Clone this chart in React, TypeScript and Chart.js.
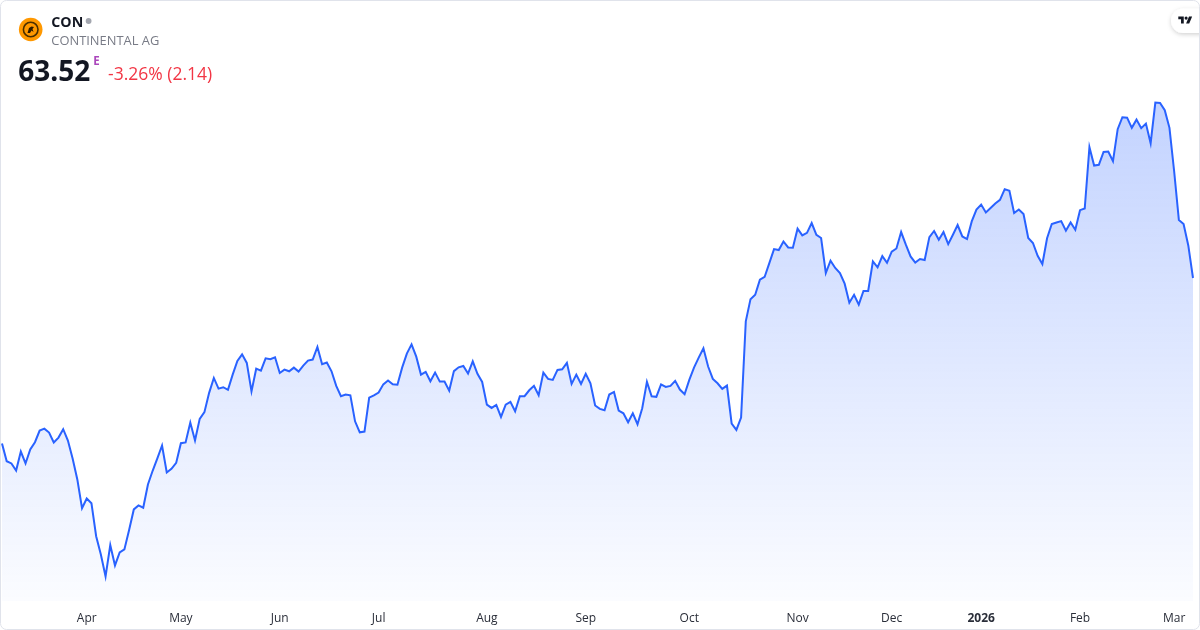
import React, { useEffect, useRef } from "react";
import { Chart, registerables } from "chart.js";

Chart.register(...registerables);

// Daily closes, CON (Continental AG), Mar 2025 – Mar 2026 (EUR)
const prices: number[] = [
  52.64, 51.48, 51.33, 50.87, 52.11, 51.33, 52.25, 52.73, 53.49, 53.62,
  53.36, 52.71, 53.03, 53.58, 52.84, 51.66, 50.28, 48.39, 49.03, 48.72,
  46.55, 45.35, 43.91, 45.96, 44.63, 45.48, 45.68, 46.95, 48.31, 48.57,
  48.42, 49.95, 50.85, 51.66, 52.51, 50.74, 50.98, 51.37, 52.66, 52.71,
  54.02, 52.84, 54.26, 54.70, 55.97, 56.95, 56.25, 56.34, 56.17, 57.17,
  58.07, 58.50, 57.94, 56.07, 57.56, 57.43, 58.24, 58.18, 58.31, 57.28,
  57.50, 57.39, 57.63, 57.37, 57.76, 58.09, 58.16, 58.99, 57.85, 57.96,
  57.39, 56.43, 55.75, 55.86, 55.81, 54.10, 53.38, 53.43, 55.66, 55.81,
  55.99, 56.53, 56.78, 56.53, 56.51, 57.63, 58.55, 59.16, 58.35, 57.17,
  57.35, 56.73, 57.30, 56.71, 56.71, 56.12, 57.40, 57.65, 57.74, 57.24,
  58.04, 57.22, 56.69, 55.20, 54.98, 55.18, 54.39, 55.20, 55.38, 54.76,
  55.75, 55.75, 56.14, 56.43, 55.81, 57.30, 56.89, 56.82, 57.48, 57.52,
  57.94, 56.56, 57.17, 56.56, 57.22, 56.60, 55.14, 54.92, 54.83, 55.86,
  56.03, 54.81, 54.63, 54.04, 54.63, 53.91, 54.96, 56.69, 55.75, 55.71,
  56.53, 56.36, 56.43, 56.76, 56.19, 55.88, 56.82, 57.63, 58.29, 58.90,
  57.70, 56.89, 56.60, 56.23, 56.45, 53.95, 53.54, 54.35, 60.67, 62.13,
  62.42, 63.41, 63.59, 64.50, 65.42, 65.36, 65.92, 65.53, 65.51, 66.76,
  66.32, 66.49, 67.13, 66.36, 66.15, 63.85, 64.66, 64.18, 63.85, 63.15,
  61.90, 62.42, 61.77, 62.67, 62.67, 64.61, 64.22, 64.96, 64.52, 65.25,
  65.46, 66.54, 65.71, 64.94, 64.54, 64.77, 64.70, 66.21, 66.61, 66.03,
  66.54, 65.75, 66.36, 67.00, 66.25, 66.08, 67.24, 68.02, 68.35, 67.83,
  68.12, 68.42, 68.66, 69.36, 69.25, 67.79, 68.02, 67.72, 66.15, 65.82,
  64.98, 64.44, 66.13, 67.07, 67.17, 67.26, 66.63, 67.17, 66.69, 67.98,
  68.09, 72.12, 70.91, 70.96, 71.81, 71.83, 71.20, 73.30, 74.09, 74.06,
  73.39, 73.93, 73.37, 73.67, 72.38, 75.05, 75.03, 74.55, 73.39, 70.52,
  67.33, 67.07, 65.66, 63.52,
];

// Trading calendar (Xetra)
const firstDate = "2025-03-06";
const exchangeHolidays: string[] = [
  "2025-04-18", "2025-04-21", "2025-05-01", "2025-12-24",
  "2025-12-25", "2025-12-26", "2025-12-31", "2026-01-01",
];

// X axis tick labels and the trading day they sit on
const monthTickLabels: string[] = ["Apr", "May", "Jun", "Jul", "Aug", "Sep", "Oct", "Nov", "Dec", "2026", "Feb", "Mar"];
const monthTickDates: string[] = [
  "2025-04-01", "2025-05-02", "2025-06-02", "2025-07-01", "2025-08-01", "2025-09-01",
  "2025-10-01", "2025-11-03", "2025-12-01", "2026-01-02", "2026-02-02", "2026-03-02",
];

const symbol = "CON";
const companyName = "CONTINENTAL AG";
const lastPrice = "63.52";
const changeText = "-3.26% (2.14)";

function iso(d: Date): string {
  const y = d.getUTCFullYear();
  const m = String(d.getUTCMonth() + 1).padStart(2, "0");
  const day = String(d.getUTCDate()).padStart(2, "0");
  return `${y}-${m}-${day}`;
}

function tradingDays(start: string, count: number): string[] {
  const out: string[] = [];
  const d = new Date(start + "T00:00:00Z");
  while (out.length < count) {
    const wd = d.getUTCDay();
    const s = iso(d);
    if (wd !== 0 && wd !== 6 && !exchangeHolidays.includes(s)) out.push(s);
    d.setUTCDate(d.getUTCDate() + 1);
  }
  return out;
}

const FONT = "'Open Sans', 'Noto Sans', Roboto, sans-serif";

export default function App() {
  const canvasRef = useRef<HTMLCanvasElement | null>(null);

  useEffect(() => {
    document.body.style.margin = "0";
    const canvas = canvasRef.current;
    if (!canvas) return;
    const labels = tradingDays(firstDate, prices.length);

    const chart = new Chart(canvas, {
      type: "line",
      data: {
        labels,
        datasets: [
          {
            data: prices,
            borderColor: "#2962ff",
            borderWidth: 2,
            pointRadius: 0,
            pointHoverRadius: 0,
            tension: 0,
            fill: "start",
            backgroundColor: (ctx: any) => {
              const { chart: ch } = ctx;
              const area = ch.chartArea;
              if (!area) return "rgba(41,98,255,0.1)";
              const g = ch.ctx.createLinearGradient(0, area.top, 0, area.bottom);
              g.addColorStop(0, "rgba(41,98,255,0.30)");
              g.addColorStop(1, "rgba(41,98,255,0.02)");
              return g;
            },
          },
        ],
      },
      options: {
        responsive: false,
        animation: false,
        layout: { padding: { left: 2, right: 7, top: 60, bottom: 0 } },
        plugins: { legend: { display: false }, tooltip: { enabled: false } },
        scales: {
          x: {
            type: "category",
            grid: { display: false, drawTicks: false },
            border: { display: false },
            afterFit: (scale: any) => {
              scale.height = 29;
              scale.paddingLeft = 0;
              scale.paddingRight = 0;
            },
            ticks: {
              autoSkip: false,
              maxRotation: 0,
              minRotation: 0,
              padding: 10,
              color: "#2a2e39",
              font: (ctx: any) => ({
                family: FONT,
                size: 12,
                weight: ctx.tick && ctx.tick.label === "2026" ? "bold" : "normal",
              }),
              callback: (_v: any, index: number) => {
                const k = monthTickDates.indexOf(labels[index]);
                return k >= 0 ? monthTickLabels[k] : "";
              },
            },
          },
          y: {
            display: false,
            min: 42.29,
            max: 77.85,
          },
        },
      },
    });
    return () => chart.destroy();
  }, []);

  return (
    <div style={{ position: "fixed", left: 0, top: 0, width: 1200, height: 630, background: "#fff", overflow: "hidden" }}>
      <canvas ref={canvasRef} width={1200} height={630} style={{ position: "absolute", left: 0, top: 0, width: 1200, height: 630 }} />
      <svg width={1200} height={630} style={{ position: "absolute", left: 0, top: 0, pointerEvents: "none" }}>
        {/* logo */}
        <circle cx={30.7} cy={29.5} r={11.8} fill="#ff9800" />
        <circle cx={30.7} cy={29.5} r={7.3} fill="none" stroke="#4a2f00" strokeWidth={1.6} />
        <path d="M27.5 33 L29 28 L31.5 26.5 L34 27 L32.5 29 L33.5 32 L31.5 30.5 L30 33 Z" fill="#2b1a00" />
        {/* header text */}
        <text x={51.3} y={26.6} fontFamily={FONT} fontSize={14.2} fontWeight={700} fill="#131722">{symbol}</text>
        <circle cx={88.6} cy={21} r={2.9} fill="#a3a6af" />
        <text x={51.3} y={45.3} fontFamily={FONT} fontSize={12.9} fill="#787b86">{companyName}</text>
        <text x={18.3} y={81} fontFamily={FONT} fontSize={28} fontWeight={700} fill="#131722">{lastPrice}</text>
        <text x={93.3} y={65.2} fontFamily={FONT} fontSize={11.5} fontWeight={700} fill="#ab47bc">E</text>
        <text x={108} y={80} fontFamily={FONT} fontSize={17.5} fill="#f23645">{changeText}</text>
        {/* TradingView badge */}
        <defs>
          <filter id="sh" x="-50%" y="-50%" width="200%" height="200%">
            <feDropShadow dx="0" dy="1.5" stdDeviation="2" floodColor="#000" floodOpacity="0.18" />
          </filter>
        </defs>
        <rect x={1171} y={8.5} width={50} height={24.5} rx={12.2} fill="#fff" filter="url(#sh)" />
        <g transform="translate(1178.3 15) scale(0.39)">
          <path d="M14 22H7V11H0V4h14v18z" fill="#131722" />
          <path d="M28 22h-8l7.5-18h8L28 22z" fill="#131722" />
          <circle cx={20} cy={8} r={4} fill="#131722" />
        </g>
        <rect x={0.5} y={0.5} width={1199} height={629} rx={6} fill="none" stroke="#e0e3eb" strokeWidth={1} />
      </svg>
    </div>
  );
}
